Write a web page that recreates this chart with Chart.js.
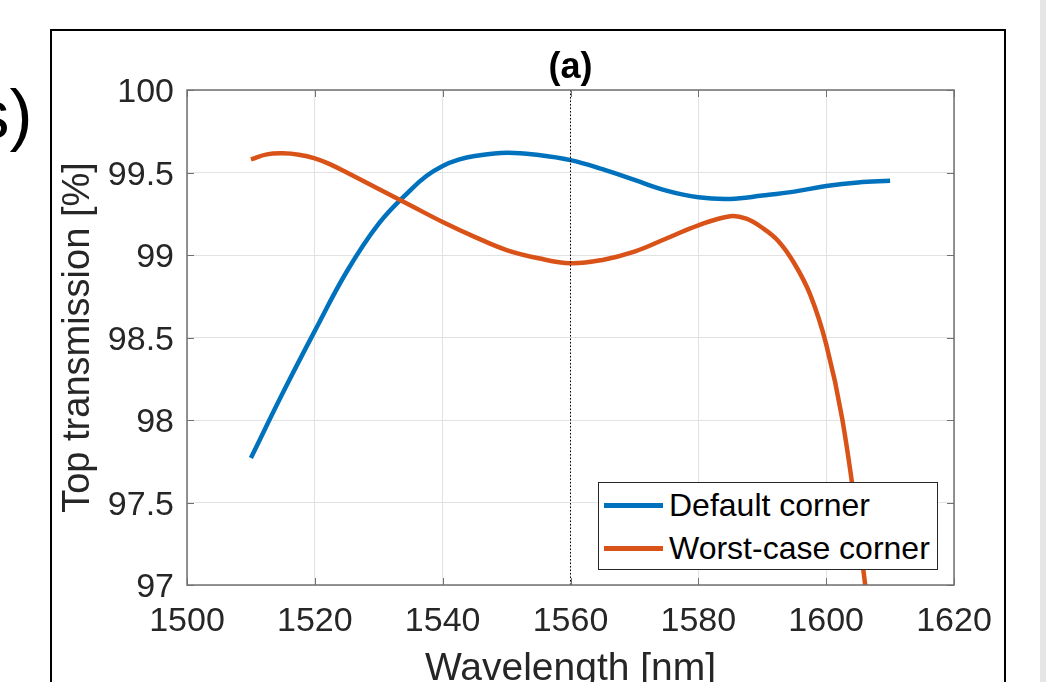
<!DOCTYPE html>
<html>
<head>
<meta charset="utf-8">
<title>Top transmission vs wavelength</title>
<script src="https://cdn.jsdelivr.net/npm/chart.js@4.4.1/dist/chart.umd.min.js"></script>
<style>
  html, body { margin: 0; padding: 0; background: #fff; overflow: hidden; }
  body { width: 1046px; height: 682px; position: relative; font-family: 'Liberation Sans', Arial, sans-serif; }
  #panel-frame { position: absolute; left: 50px; top: 29px; width: 952px; height: 700px; border: 2px solid #000; }
  #side-strip { position: absolute; left: 1040px; top: 0; width: 6px; height: 682px; background: #e6e6e6; }
  #panel-tag { position: absolute; left: -25px; top: 80px; font-size: 69px; line-height: 69px; color: #000; white-space: nowrap; }
  #chart { position: absolute; left: 0; top: 0; }
  #legend { position: absolute; left: 598px; top: 482px; width: 338px; height: 85px; border: 1px solid #262626;
            background: #fff; padding-top: 1px; box-sizing: content-box; }
  .legend-row { display: flex; align-items: center; height: 43px; }
  .legend-line { width: 59px; height: 5px; margin-left: 5px; }
  .legend-text { margin-left: 6px; font-size: 32px; color: #000; white-space: nowrap; }
</style>
</head>
<body>
<div id="panel-frame"></div>
<div id="panel-tag">s)</div>
<canvas id="chart" width="1046" height="682"></canvas>
<div id="legend"></div>
<div id="side-strip"></div>

<script>
// Wavelength sweep of top transmission, two process corners.

const xTicks = [1500, 1520, 1540, 1560, 1580, 1600, 1620];
const yTicks = [97, 97.5, 98, 98.5, 99, 99.5, 100];

const defaultLabel = 'Default corner';
const defaultWl = [1510, 1515, 1520, 1525, 1530, 1535, 1537.5, 1540, 1542.5, 1545, 1550, 1555, 1560,
                   1565, 1570, 1575, 1580, 1585, 1590, 1595, 1600, 1605, 1610];
const defaultT  = [97.77, 98.165, 98.54, 98.90, 99.19, 99.395, 99.48, 99.54, 99.578, 99.60, 99.62, 99.606, 99.575,
                   99.52, 99.455, 99.39, 99.35, 99.34, 99.36, 99.384, 99.418, 99.44, 99.45];

const worstLabel = 'Worst-case corner';
const worstWl = [1510, 1512.5, 1515, 1517.5, 1520, 1522.5, 1525, 1530, 1535, 1540, 1545, 1550, 1555, 1560,
                 1565, 1570, 1575, 1580, 1585, 1587.5, 1590, 1592.5, 1595, 1597.5, 1600,
                 1602.5, 1605, 1607.5];
const worstT  = [99.58, 99.61, 99.616, 99.608, 99.586, 99.548, 99.50, 99.40, 99.30, 99.20, 99.11, 99.03, 98.98, 98.95,
                 98.97, 99.02, 99.10, 99.18, 99.235, 99.22, 99.165, 99.085, 98.95, 98.76, 98.46,
                 98.01, 97.34, 96.55];

const markerWl = 1560;          // dotted reference wavelength
const markerSpan = [97, 100];

const BLUE = '#0072BD';
const ORANGE = '#D95319';
const AXIS = '#707070';
const GRID = '#e2e2e2';
const TEXT = '#262626';

const toPoints = (xs, ys) => xs.map((x, i) => ({ x, y: ys[i] }));

// MATLAB-style box: inward ticks on all four sides, drawn over the data
const boxAxes = {
  id: 'boxAxes',
  afterDatasetsDraw(chart) {
    const { ctx, chartArea: a, scales: { x, y } } = chart;
    ctx.save();
    ctx.strokeStyle = AXIS;
    ctx.lineWidth = 1;
    ctx.beginPath();
    xTicks.forEach(v => {
      const px = Math.round(x.getPixelForValue(v)) + 0.5;
      ctx.moveTo(px, a.bottom); ctx.lineTo(px, a.bottom - 7);
      ctx.moveTo(px, a.top);    ctx.lineTo(px, a.top + 7);
    });
    yTicks.forEach(v => {
      const py = Math.round(y.getPixelForValue(v)) + 0.5;
      ctx.moveTo(a.left, py);  ctx.lineTo(a.left + 7, py);
      ctx.moveTo(a.right, py); ctx.lineTo(a.right - 7, py);
    });
    ctx.stroke();
    ctx.lineWidth = 1.5;
    ctx.strokeRect(a.left, a.top, a.right - a.left, a.bottom - a.top);
    ctx.restore();
  }
};

Chart.defaults.font.family = "'Liberation Sans', Arial, sans-serif";
Chart.defaults.color = TEXT;

new Chart(document.getElementById('chart'), {
  type: 'line',
  data: {
    datasets: [
      {
        label: 'marker',
        data: toPoints([markerWl, markerWl], markerSpan),
        borderColor: '#000',
        borderWidth: 1,
        borderDash: [1.5, 2],
        pointRadius: 0,
        order: -1,
      },
      {
        label: worstLabel,
        data: toPoints(worstWl, worstT),
        borderColor: ORANGE,
        borderWidth: 4.5,
        pointRadius: 0,
        tension: 0.4,
        clip: 0,
        order: 0,
      },
      {
        label: defaultLabel,
        data: toPoints(defaultWl, defaultT),
        borderColor: BLUE,
        borderWidth: 4.5,
        pointRadius: 0,
        tension: 0.4,
        clip: 0,
        order: 1,
      },
    ],
  },
  options: {
    responsive: false,
    devicePixelRatio: 1,
    animation: false,
    layout: { padding: { left: 0, top: 0, right: 92, bottom: 0 } },
    plugins: {
      legend: { display: false },
      tooltip: { enabled: false },
      title: {
        display: true,
        text: '(a)',
        fullSize: false,
        color: '#000',
        font: { size: 36, weight: 'bold' },
        padding: { top: 46.8, bottom: 0 },
      },
    },
    scales: {
      x: {
        type: 'linear',
        min: 1500,
        max: 1620,
        afterBuildTicks: s => { s.ticks = xTicks.map(value => ({ value })); },
        afterFit: s => { s.height = 97; },
        ticks: { callback: v => String(v), font: { size: 34 }, padding: 16, maxRotation: 0, autoSkip: false, color: TEXT },
        grid: { color: GRID, drawTicks: false },
        border: { display: false },
        title: { display: true, text: 'Wavelength [nm]', font: { size: 39 }, color: TEXT, padding: { top: 0, bottom: -11 } },
      },
      y: {
        type: 'linear',
        min: 97,
        max: 100,
        afterBuildTicks: s => { s.ticks = yTicks.map(value => ({ value })); },
        afterFit: s => { s.width = 187; },
        ticks: { callback: v => String(v), font: { size: 34 }, padding: 13, labelOffset: 3, autoSkip: false, color: TEXT },
        grid: { color: GRID, drawTicks: false },
        border: { display: false },
        title: { display: true, text: 'Top transmission [%]', font: { size: 38 }, color: TEXT, padding: { top: 56, bottom: 0 } },
      },
    },
  },
  plugins: [boxAxes],
});

// legend box sits inside the axes, lower right, like the original figure
const legendItems = [
  { label: defaultLabel, color: BLUE },
  { label: worstLabel, color: ORANGE },
];
document.getElementById('legend').innerHTML = legendItems.map(it => `
  <div class="legend-row">
    <span class="legend-line" style="background:${it.color}"></span>
    <span class="legend-text">${it.label}</span>
  </div>`).join('');
</script>
</body>
</html>
